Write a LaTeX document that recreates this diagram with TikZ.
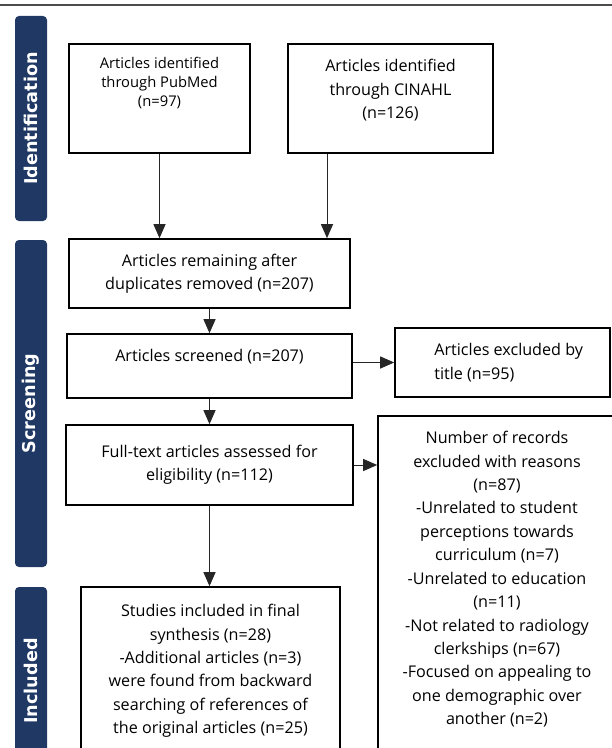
\documentclass[tikz,border=0pt]{standalone}
\usepackage{fontspec}
\setmainfont{Open Sans}
\newfontfamily\stagefont{DejaVu Sans}
\usetikzlibrary{arrows.meta,positioning}
\definecolor{stageblue}{HTML}{203864}

\begin{document}
\begin{tikzpicture}[
  x=1bp, y=-1bp,
  >={Triangle[length=14bp,width=12bp]},
  box/.style={draw,line width=1.6bp,inner sep=0pt,align=center,
    font=\fontsize{16.2}{23.5}\selectfont},
  txt/.style={inner sep=0pt,align=center,font=\fontsize{16.2}{23.5}\selectfont},
  stage/.style={fill=stageblue,rounded corners=4bp,rotate=90,minimum height=32bp,
    text=white,inner sep=0pt,font=\stagefont\bfseries\fontsize{17.7}{20}\selectfont},
  flow/.style={->,line width=1bp,draw=black!85}
]
  \useasboundingbox (0,0) rectangle (612,748);
  \clip (0,0) rectangle (612,748);
  \draw[black!70,line width=1.5bp] (0,5) -- (612,5);

  % stage bars
  \node[stage,minimum width=205bp] (ident) at (31,118.5) {Identification};
  \node[stage,minimum width=327bp] (screen) at (31,403.5) {Screening};
  \node[stage,minimum width=188bp] (incl) at (31,681) {Included};

  % boxes
  \node[box,minimum width=181bp,minimum height=109bp,
    label={[txt,below=14bp,font=\fontsize{14.8}{19}\selectfont]north:{Articles identified\\through PubMed\\(n=97)}}]
    (pubmed) at (159.5,98.5) {};
  \node[box,minimum width=205bp,minimum height=109bp,
    label={[txt,below=16bp]north:{Articles identified\\through CINAHL\\(n=126)}}]
    (cinahl) at (390.5,98.5) {};
  \node[box,minimum width=281bp,minimum height=69bp] (remain) at (209.5,273.5)
    {Articles remaining after\\duplicates removed (n=207)};
  \node[box,minimum width=285bp,minimum height=64bp,
    label={[txt,below=16bp]north:{Articles screened (n=207)}}]
    (screened) at (209.5,366) {};
  \node[box,minimum width=215bp,minimum height=69bp,
    label={[txt,align=left,right=40bp]west:{Articles excluded by\\title (n=95)}}]
    (excl) at (502.5,362.5) {};
  \node[box,minimum width=287bp,minimum height=80bp] (fulltext) at (209.5,465)
    {Full-text articles assessed for\\eligibility (n=112)};
  \node[box,minimum width=238bp,minimum height=354bp,
    label={[txt,below=16bp]north:{Number of records\\excluded with reasons\\(n=87)\\
      -Unrelated to student\\perceptions towards\\curriculum (n=7)\\
      -Unrelated to education\\(n=11)\\-Not related to radiology\\clerkships (n=67)\\
      -Focused on appealing to\\one demographic over\\another (n=2)}}]
    (reasons) at (497,593) {};
  \node[box,minimum width=259bp,minimum height=183bp,
    label={[txt,below=18bp]north:{Studies included in final\\synthesis (n=28)\\
      -Additional articles (n=3)\\were found from backward\\searching of references of\\
      the original articles (n=25)}}]
    (studies) at (210.5,678.5) {};

  % arrows
  \draw[flow] (pubmed.south) -- (pubmed.south |- remain.north);
  \draw[flow] ([xshift=-63.5bp]cinahl.south) -- ([xshift=-63.5bp]cinahl.south |- remain.north);
  \draw[flow] (remain.south) -- (screened.north);
  \draw[flow] (excl.west -| screened.east) -- (excl.west);
  \draw[flow] (screened.south) -- (fulltext.north);
  \draw[flow] (fulltext.east) -- (fulltext.east -| reasons.west);
  \draw[flow] (fulltext.south) -- (fulltext.south |- studies.north);
\end{tikzpicture}
\end{document}
